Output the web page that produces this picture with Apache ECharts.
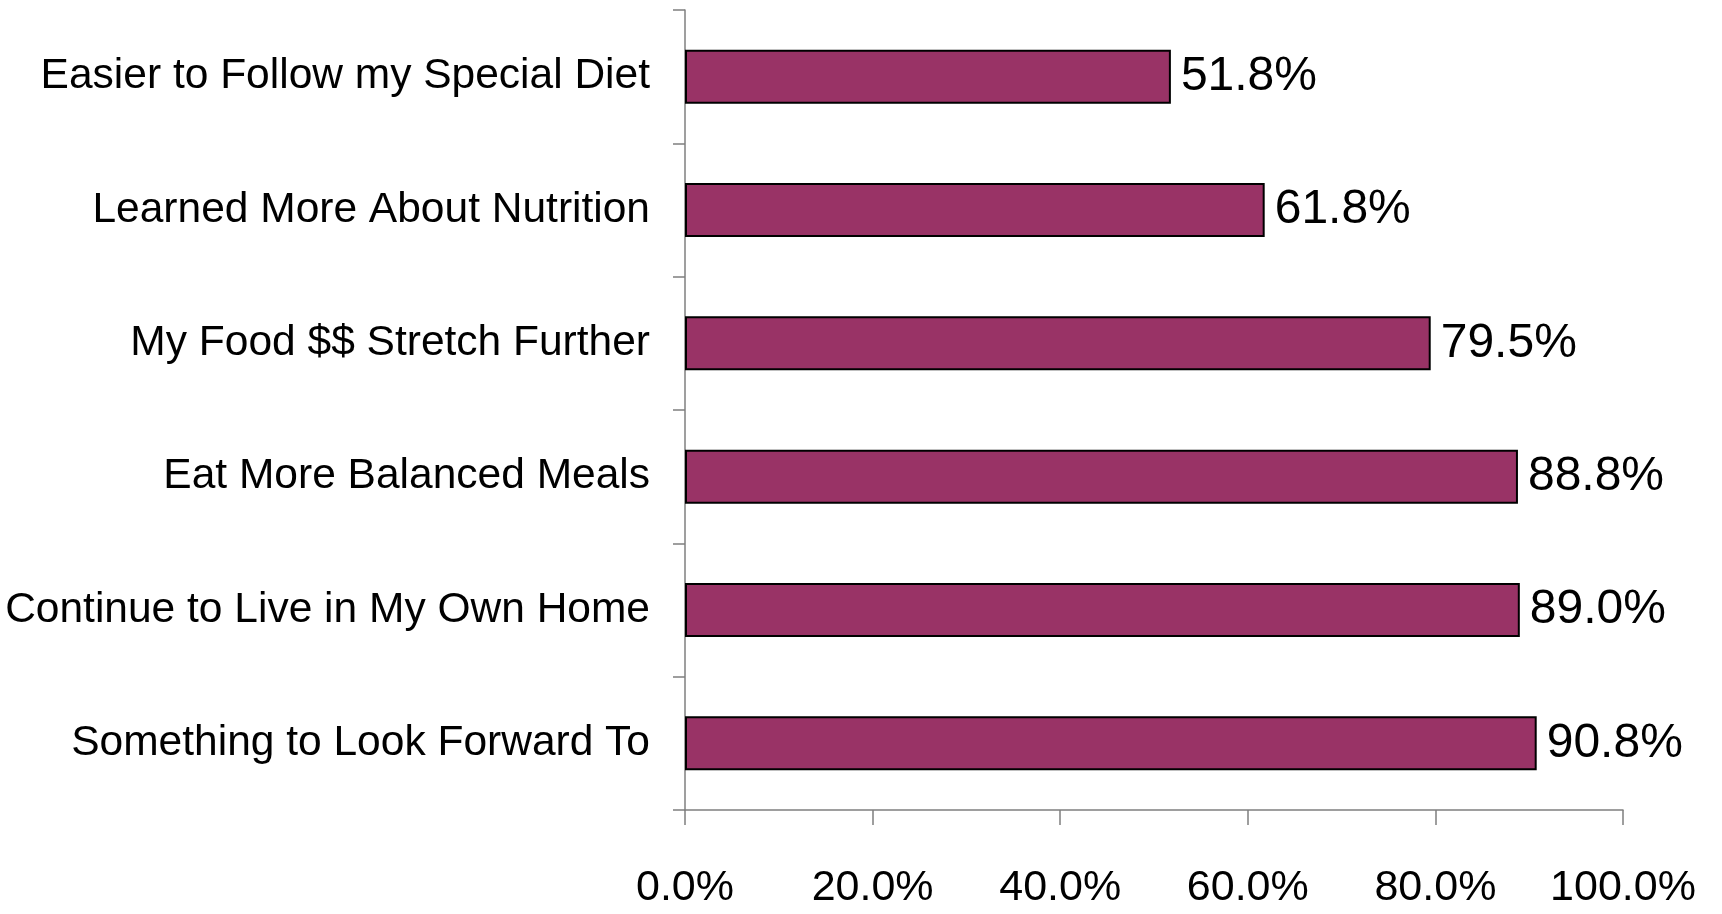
<!DOCTYPE html>
<html>
<head>
<meta charset="utf-8">
<script src="https://cdn.jsdelivr.net/npm/echarts@6/dist/echarts.min.js"></script>
<style>
html,body{margin:0;padding:0;background:#fff;}
#chart{width:1722px;height:914px;}
</style>
</head>
<body>
<div id="chart"></div>
<script>
const categories = [
  "Easier to Follow my Special Diet",
  "Learned More About Nutrition",
  "My Food $$ Stretch Further",
  "Eat More Balanced Meals",
  "Continue to Live in My Own Home",
  "Something to Look Forward To"
];
const values = [51.8, 61.8, 79.5, 88.8, 89.0, 90.8];
const xTicks = [0, 20, 40, 60, 80, 100];

const chart = echarts.init(document.getElementById('chart'), null, {renderer: 'canvas'});
chart.setOption({
  animation: false,
  backgroundColor: '#ffffff',
  grid: {left: 685, right: 99, top: 10, bottom: 104, containLabel: false, outerBoundsMode: 'none'},
  xAxis: {
    type: 'value',
    min: xTicks[0],
    max: xTicks[xTicks.length - 1],
    interval: 20,
    axisLine: {show: true, lineStyle: {color: '#7f7f7f', width: 1.5}},
    axisTick: {show: true, length: 15, lineStyle: {color: '#7f7f7f', width: 1.5}},
    splitLine: {show: false},
    axisLabel: {
      margin: 57,
      color: '#000',
      fontFamily: "'Liberation Sans', Arial, sans-serif",
      fontSize: 43,
      formatter: v => v.toFixed(1) + '%'
    }
  },
  yAxis: {
    type: 'category',
    data: categories,
    inverse: true,
    axisLine: {show: true, lineStyle: {color: '#7f7f7f', width: 1.5}},
    axisTick: {show: true, length: 12, inside: false, lineStyle: {color: '#7f7f7f', width: 1.5}},
    axisLabel: {
      margin: 35,
      color: '#000',
      fontFamily: "'Liberation Sans', Arial, sans-serif",
      fontSize: 42.5
    }
  },
  series: [{
    type: 'bar',
    data: values,
    barWidth: 54,
    itemStyle: {color: '#993366', borderColor: '#000', borderWidth: 2},
    label: {
      show: true,
      position: 'right',
      distance: 10,
      color: '#000',
      fontFamily: "'Liberation Sans', Arial, sans-serif",
      fontSize: 48,
      formatter: p => p.value.toFixed(1) + '%'
    }
  }]
});
</script>
</body>
</html>
